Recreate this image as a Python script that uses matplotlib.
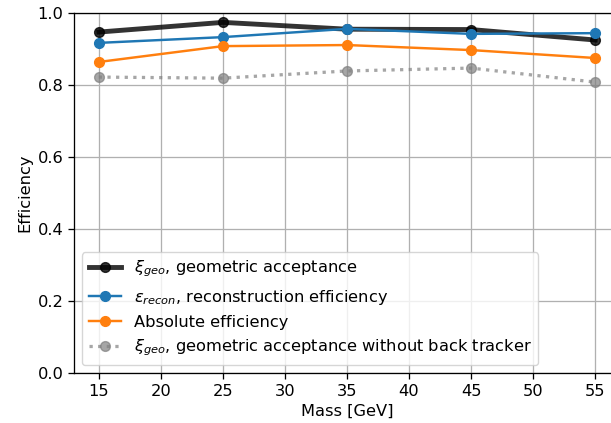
import matplotlib.pyplot as plt

# masses and efficiencies
mass = [15, 25, 35, 45, 55]
geo = [0.947, 0.974, 0.955, 0.954, 0.925]
recon = [0.917, 0.933, 0.956, 0.942, 0.944]
absolute = [0.864, 0.908, 0.911, 0.897, 0.875]
geo_noback = [0.822, 0.819, 0.839, 0.847, 0.808]

s = 1.17  # the reference looks rendered a bit larger than 100 dpi
plt.rcParams['font.size'] = 10 * s

fig = plt.figure(figsize=(6.11, 4.23), dpi=100)
# the right spine is cut off in the reference
ax = fig.add_axes([74 / 611, 50 / 423, 546 / 611, 360 / 423])
ax.plot(mass, geo, 'o-', color='black', lw=3 * s, ms=6 * s, alpha=0.8,
        label=r'$\xi_{geo}$, geometric acceptance')
ax.plot(mass, recon, 'o-', color='tab:blue', lw=1.5 * s, ms=6 * s,
        label=r'$\epsilon_{recon}$, reconstruction efficiency')
ax.plot(mass, absolute, 'o-', color='tab:orange', lw=1.5 * s, ms=6 * s,
        label='Absolute efficiency')
ax.plot(mass, geo_noback, 'o:', color='gray', lw=2 * s, ms=6 * s, alpha=0.7,
        label=r'$\xi_{geo}$, geometric acceptance without back tracker')
ax.set_xlim(13, 57)
ax.set_ylim(0, 1.0)
ax.set_xticks(range(15, 60, 5))
ax.set_xlabel('Mass [GeV]')
ax.set_ylabel('Efficiency')
ax.grid(True, lw=0.8 * s)
ax.tick_params(width=0.8 * s, length=3.5 * s)
for sp in ax.spines.values():
    sp.set_linewidth(0.8 * s)
ax.legend(loc='lower left')
fig.savefig('out.png')
